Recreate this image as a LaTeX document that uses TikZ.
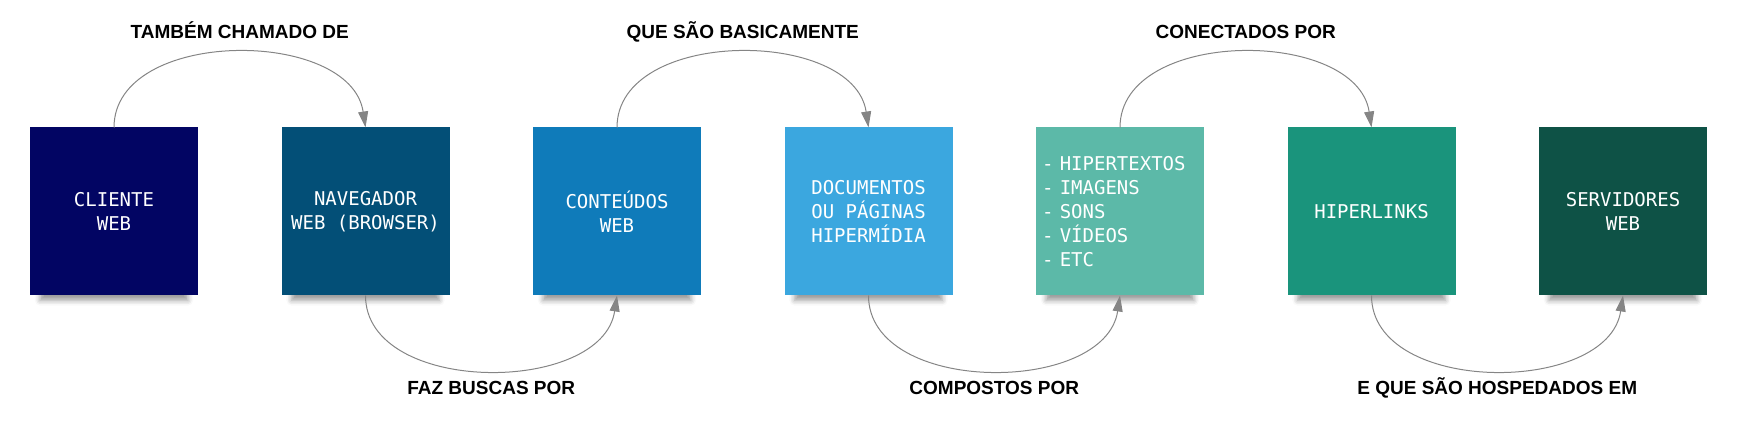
\documentclass[tikz,border=0pt]{standalone}
\usepackage{fontspec}
\setmainfont{Liberation Sans}
\newfontfamily\boxfont{DejaVu Sans Mono}
\usetikzlibrary{arrows.meta,shadows.blur}

\definecolor{corA}{HTML}{020563}
\definecolor{corB}{HTML}{034F77}
\definecolor{corC}{HTML}{0F7BBA}
\definecolor{corD}{HTML}{3BA7DF}
\definecolor{corE}{HTML}{5CB9A8}
\definecolor{corF}{HTML}{1A947C}
\definecolor{corG}{HTML}{0E5246}
\definecolor{linha}{HTML}{858585}

\begin{document}
\begin{tikzpicture}[x=1pt,y=1pt,
    caixa/.style={minimum width=168pt, minimum height=168pt, inner sep=6pt, outer sep=0pt,
        text=white, align=center, font=\boxfont\fontsize{19}{24}\selectfont,
        blur shadow={shadow xshift=0pt, shadow yshift=-17pt, shadow scale=0.88,
            shadow blur radius=6pt, shadow opacity=40}},
    seta/.style={draw=linha, line width=1pt, -{Triangle[length=16pt,width=10pt,fill=linha]}},
    rotulo/.style={anchor=base, font=\bfseries\fontsize{19}{22}\selectfont}]

    % Fix the size of the picture
    \useasboundingbox (0,0) rectangle (1737,430);

    % Draw the boxes
    \node[caixa, fill=corA] (cliente) at (114,218.5) {CLIENTE\\WEB};
    \node[caixa, fill=corB] (navegador) at (365.5,218.5) {NAVEGADOR\\WEB (BROWSER)};
    \node[caixa, fill=corC] (conteudos) at (617,218.5) {CONTEÚDOS\\WEB};
    \node[caixa, fill=corD] (documentos) at (868.5,218.5) {DOCUMENTOS\\OU PÁGINAS\\HIPERMÍDIA};
    \node[caixa, fill=corE, text width=156pt, align=left] (midias) at (1120,218.5)
        {- HIPERTEXTOS\\- IMAGENS\\- SONS\\- VÍDEOS\\- ETC};
    \node[caixa, fill=corF] (hiperlinks) at (1371.5,218.5) {HIPERLINKS};
    \node[caixa, fill=corG] (servidores) at (1623,218.5) {SERVIDORES\\WEB};

    % Draw the arcs above the boxes
    \draw[seta] (cliente.north) .. controls +(0,100) and +(-15,100) .. (navegador.north);
    \draw[seta] (conteudos.north) .. controls +(0,100) and +(-15,100) .. (documentos.north);
    \draw[seta] (midias.north) .. controls +(0,100) and +(-15,100) .. (hiperlinks.north);

    % Draw the arcs below the boxes
    \draw[seta] (navegador.south) .. controls +(0,-100) and +(-15,-100) .. (conteudos.south);
    \draw[seta] (documentos.south) .. controls +(0,-100) and +(-15,-100) .. (midias.south);
    \draw[seta] (hiperlinks.south) .. controls +(0,-100) and +(-15,-100) .. (servidores.south);

    % Label the arcs
    \node[rotulo] (rotuloA) at (239.75,391) {TAMBÉM CHAMADO DE};
    \node[rotulo] (rotuloB) at (742.75,391) {QUE SÃO BASICAMENTE};
    \node[rotulo] (rotuloC) at (1245.75,391) {CONECTADOS POR};
    \node[rotulo] (rotuloD) at (491.25,35) {FAZ BUSCAS POR};
    \node[rotulo] (rotuloE) at (994.25,35) {COMPOSTOS POR};
    \node[rotulo] (rotuloF) at (1497.25,35) {E QUE SÃO HOSPEDADOS EM};

\end{tikzpicture}
\end{document}
